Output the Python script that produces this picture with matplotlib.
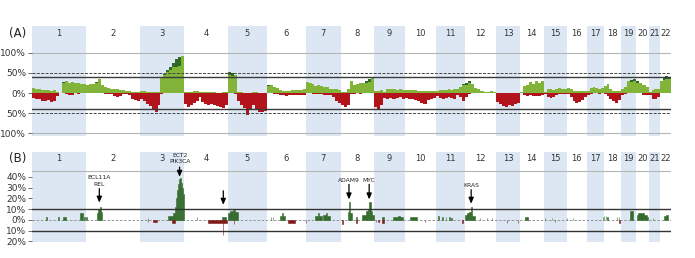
import matplotlib
matplotlib.use('Agg')
import matplotlib.pyplot as plt
import numpy as np

# chromosome sizes (Mb, as laid out in the figure)
chrom_names = [str(i) for i in range(1, 23)]
chrom_len = [250, 248, 202, 202, 179, 179, 161, 152, 143, 143, 133,
             143, 110, 110, 106, 92, 78, 78, 69, 60, 51, 51]

# (A) frequency of gains / losses (%), equal bins along each chromosome
gain_A = [
    [12, 9, 10, 8, 7, 8, 6, 7, 3, 0, 28, 30, 25, 27, 24, 26, 23, 22],
    [20, 22, 23, 28, 36, 20, 14, 12, 11, 9, 10, 8, 7, 6, 5, 3, 3, 2],
    [4, 5, 3, 3, 2, 2, 3, 38, 48, 57, 66, 76, 84, 90, 93],
    [2, 3, 3, 6, 4, 3, 2, 2, 2, 2, 2, 1, 1, 2, 2],
    [52, 50, 45, 2, 2, 1, 1, 1, 2, 2, 1, 1, 1],
    [20, 21, 16, 12, 8, 6, 5, 6, 7, 8, 7, 8, 9],
    [28, 24, 22, 18, 20, 17, 15, 14, 11, 10, 9, 8],
    [2, 2, 10, 30, 20, 22, 24, 26, 30, 34, 40],
    [4, 6, 8, 3, 9, 10, 9, 8, 9, 8],
    [7, 8, 7, 7, 6, 6, 5, 6, 5, 6],
    [6, 7, 7, 8, 9, 8, 9, 10, 14, 22],
    [24, 30, 22, 12, 9, 4, 3, 3, 4, 2],
    [1, 1, 1, 1, 1, 1, 1, 1],
    [2, 18, 20, 28, 22, 30, 24, 30],
    [3, 9, 10, 8, 10, 12, 9, 10],
    [12, 10, 5, 4, 4, 5, 6],
    [5, 12, 15, 13, 11, 12],
    [18, 22, 10, 6, 4, 5],
    [10, 14, 30, 33, 36],
    [30, 25, 20, 16],
    [2, 8, 10, 9],
    [30, 40, 42, 38],
]
# high-level part of the gains (dark green)
high_A = [
    [0, 0, 0, 0, 0, 0, 0, 0, 0, 0, 3, 4, 0, 0, 0, 0, 0, 0],
    [0, 0, 0, 3, 6, 0, 0, 0, 0, 0, 0, 0, 0, 0, 0, 0, 0, 0],
    [0, 0, 0, 0, 0, 0, 0, 0, 2, 4, 8, 12, 18, 22, 25],
    [0, 0, 0, 0, 0, 0, 0, 0, 0, 0, 0, 0, 0, 0, 0],
    [8, 8, 5, 0, 0, 0, 0, 0, 0, 0, 0, 0, 0],
    [3, 2, 0, 0, 0, 0, 0, 0, 0, 0, 0, 0, 0],
    [3, 0, 0, 0, 0, 0, 0, 0, 0, 0, 0, 0],
    [0, 0, 0, 5, 0, 0, 0, 2, 4, 6, 8],
    [0, 0, 0, 0, 0, 0, 0, 0, 0, 0],
    [0, 0, 0, 0, 0, 0, 0, 0, 0, 0],
    [0, 0, 0, 0, 0, 0, 0, 0, 0, 3],
    [3, 5, 2, 0, 0, 0, 0, 0, 0, 0],
    [0, 0, 0, 0, 0, 0, 0, 0],
    [0, 0, 0, 4, 0, 4, 0, 4],
    [0, 0, 0, 0, 0, 0, 0, 0],
    [0, 0, 0, 0, 0, 0, 0],
    [0, 0, 0, 0, 0, 0],
    [0, 2, 0, 0, 0, 0],
    [0, 0, 0, 6, 6],
    [6, 3, 0, 0],
    [0, 0, 0, 0],
    [0, 8, 8, 4],
]
loss_A = [
    [12, 14, 15, 19, 20, 18, 22, 20, 8, 0, 1, 2, 5, 4, 1, 2, 1, 1],
    [0, 1, 1, 0, 0, 1, 2, 2, 3, 8, 9, 7, 3, 2, 6, 14, 18, 20],
    [15, 20, 28, 32, 42, 46, 30, 3, 1, 0, 0, 0, 0, 0, 0],
    [28, 34, 30, 26, 20, 10, 22, 28, 30, 27, 30, 32, 34, 37, 30],
    [0, 0, 2, 20, 30, 38, 55, 40, 30, 42, 46, 47, 45],
    [1, 1, 2, 3, 4, 6, 8, 5, 6, 4, 5, 6, 4],
    [1, 1, 2, 2, 2, 3, 4, 5, 5, 10, 20, 25],
    [30, 36, 30, 2, 2, 1, 2, 1, 1, 1, 1],
    [36, 40, 30, 12, 14, 12, 16, 12, 10, 14],
    [12, 16, 15, 18, 20, 24, 28, 18, 14, 12],
    [8, 12, 14, 12, 10, 13, 15, 6, 10, 20],
    [10, 2, 1, 1, 1, 1, 0, 0, 1, 1],
    [22, 28, 32, 34, 30, 33, 28, 25],
    [1, 5, 7, 6, 8, 7, 8, 6],
    [2, 10, 12, 10, 4, 3, 2, 2],
    [2, 10, 20, 24, 22, 18, 10],
    [6, 2, 1, 1, 2, 1],
    [2, 8, 15, 20, 26, 18],
    [6, 3, 1, 1, 1],
    [1, 1, 4, 5],
    [4, 14, 15, 10],
    [1, 1, 1, 1],
]

# (B) significant gains / losses: (chromosome, start Mb, end Mb, %)
gain_B = [
    (1, 68, 71, 3), (1, 120, 124, 3), (1, 143, 160, 3), (1, 224, 234, 6), (1, 240, 243, 3),
    (2, 2, 5, 3), (2, 50, 56, 6), (2, 56, 62, 10), (2, 62, 67, 12), (2, 67, 72, 7),
    (3, 36, 38, 2), (3, 128, 152, 4), (3, 152, 161, 6), (3, 161, 166, 12), (3, 166, 170, 20),
    (3, 170, 175, 28), (3, 175, 179, 33), (3, 179, 184, 38), (3, 184, 189, 39), (3, 189, 193, 34),
    (3, 193, 198, 30), (3, 198, 202, 24),
    (4, 60, 62, 3), (4, 175, 195, 3),
    (5, 0, 10, 6), (5, 10, 25, 8), (5, 25, 35, 9), (5, 35, 46, 7),
    (6, 18, 20, 3), (6, 27, 29, 3), (6, 60, 70, 4), (6, 70, 76, 6), (6, 76, 83, 4),
    (7, 41, 55, 4), (7, 55, 62, 6), (7, 62, 74, 4), (7, 78, 92, 5), (7, 92, 100, 6), (7, 100, 110, 4),
    (8, 32, 38, 7), (8, 38, 44, 17), (8, 44, 50, 6), (8, 72, 75, 3), (8, 97, 115, 5),
    (8, 115, 125, 8), (8, 125, 132, 10), (8, 132, 138, 17), (8, 138, 145, 8), (8, 145, 152, 5),
    (9, 38, 45, 3), (9, 87, 110, 3), (9, 110, 120, 4), (9, 120, 133, 3),
    (10, 23, 55, 3),
    (11, 9, 12, 4), (11, 30, 33, 3), (11, 45, 48, 3), (11, 60, 63, 3), (11, 70, 73, 2),
    (12, 0, 10, 5), (12, 10, 20, 6), (12, 20, 27, 7), (12, 27, 32, 12), (12, 32, 46, 4),
    (12, 68, 70, 2), (12, 100, 102, 2), (12, 123, 125, 2),
    (14, 23, 37, 3),
    (15, 4, 6, 2), (15, 36, 38, 2),
    (16, 1, 3, 2), (16, 27, 29, 2),
    (17, 72, 75, 3),
    (18, 0, 3, 4), (18, 8, 11, 4), (18, 15, 18, 3), (18, 60, 62, 3), (18, 68, 70, 3),
    (19, 41, 55, 8),
    (20, 5, 12, 5), (20, 12, 40, 6), (20, 40, 52, 5), (20, 52, 58, 3),
    (21, 17, 19, 2),
    (22, 18, 28, 4), (22, 28, 37, 5),
]
loss_B = [
    (3, 36, 38, 2), (3, 58, 80, 2), (3, 147, 160, 3),
    (4, 110, 198, 3), (4, 178, 181, 14),
    (5, 27, 29, 4),
    (6, 97, 129, 3),
    (7, 0, 3, 3),
    (8, 8, 11, 4), (8, 72, 75, 3),
    (9, 9, 11, 2), (9, 20, 22, 2), (9, 38, 45, 3),
    (10, 91, 93, 2),
    (11, 120, 123, 3),
    (13, 50, 53, 3), (13, 100, 103, 3),
    (15, 50, 52, 2),
    (18, 72, 74, 3),
]

# gene annotations in (B): label, chromosome, Mb, text %, arrow from %, arrow to %
gene_labels = ['BCL11A\nREL', 'ECT2\nPIK3CA', '', 'ADAM9', 'MYC', 'KRAS']
gene_chrom = [2, 3, 4, 8, 8, 12]
gene_pos = [61, 182, 181, 38, 131, 29]
gene_text_y = [36, 57, 0, 37, 37, 32]
gene_arrow_from = [29, 49, 27, 33, 33, 28]
gene_arrow_to = [16, 40, 14, 19, 19, 15]

offsets = np.concatenate([[0], np.cumsum(chrom_len)])

shade = '#dde7f3'
light_green = '#82b43a'
dark_green = '#2f6a2a'
red = '#b3141c'
b_green = '#336b2c'
b_red = '#7c1a1a'


def step_arrays(per_chrom):
    xs, ys = [], []
    for c, vals in enumerate(per_chrom):
        n = len(vals)
        xs.extend(offsets[c] + np.arange(n) * chrom_len[c] / n)
        ys.extend(vals)
    xs.append(offsets[-1])
    ys.append(ys[-1])
    return np.array(xs, float), np.array(ys, float)


def setup_panel(ax, ylim, ticks, ticklabels, tag):
    ax.set_xlim(0, offsets[-1])
    ax.set_ylim(*ylim)
    for c in range(0, 22, 2):
        ax.axvspan(offsets[c], offsets[c + 1], color=shade, lw=0, zorder=0)
    trans = ax.get_xaxis_transform()
    for c in range(22):
        ax.text((offsets[c] + offsets[c + 1]) / 2, 0.928, chrom_names[c], transform=trans,
                ha='center', va='center', fontsize=6, color='#333333')
    for s in ax.spines.values():
        s.set_visible(False)
    ax.set_xticks([])
    ax.set_yticks(ticks)
    ax.set_yticklabels(ticklabels)
    ax.tick_params(axis='y', length=3, width=0.6, color='#555555', labelsize=6.5,
                   labelcolor='#333333', pad=1)
    ax.text(-0.009, 0.928, tag, transform=ax.transAxes, ha='right', va='center',
            fontsize=8.5, color='#222222')


fig = plt.figure(figsize=(6.95, 2.58), dpi=100)
plt.rcParams['font.family'] = ['DejaVu Sans']

left, width = 31.7 / 695, 639.3 / 695

# ---- panel A
axA = fig.add_axes([left, 1 - 136 / 258, width, 110 / 258])
setup_panel(axA, (-107, 167), [100, 50, 0, -50, -100],
            ['100%', '50%', '0%', '50%', '100%'], '(A)')

x, g = step_arrays(gain_A)
_, h = step_arrays(high_A)
_, l = step_arrays(loss_A)
axA.fill_between(x, 0, g, step='post', color=light_green, lw=0, zorder=2)
axA.fill_between(x, g - h, g, where=h > 0, step='post', color=dark_green, lw=0, zorder=2)
axA.fill_between(x, 0, -l, step='post', color=red, lw=0, zorder=2)

for yv in (100, -100):
    axA.axhline(yv, color='#b5b5b5', lw=0.8, zorder=1)
for yv in (50, -50):
    axA.axhline(yv, color='#444444', lw=0.7, ls=(0, (3, 1.5)), zorder=3)
for yv in (40, -40):
    axA.axhline(yv, color='#3a3a3a', lw=1.0, zorder=3)

# ---- panel B
axB = fig.add_axes([left, 1 - 242 / 258, width, 90 / 258])
setup_panel(axB, (-20.5, 63), [40, 30, 20, 10, 0, -10, -20],
            ['40%', '30%', '20%', '10%', '0%', '10%', '20%'], '(B)')

axB.axhline(45, color='#b5b5b5', lw=0.8, zorder=1)
axB.axhline(0, color='#888888', lw=0.6, ls=(0, (3, 2)), zorder=1)
for yv in (10, -10):
    axB.axhline(yv, color='#333333', lw=1.0, zorder=3)

gx = [offsets[c - 1] + s for c, s, e, v in gain_B]
gw = [e - s for c, s, e, v in gain_B]
gv = [v for c, s, e, v in gain_B]
axB.bar(gx, gv, width=gw, align='edge', color=b_green, lw=0.4, edgecolor=b_green, zorder=2)
lx = [offsets[c - 1] + s for c, s, e, v in loss_B]
lw_ = [e - s for c, s, e, v in loss_B]
lv = [-v for c, s, e, v in loss_B]
axB.bar(lx, lv, width=lw_, align='edge', color=b_red, lw=0.4, edgecolor=b_red, zorder=2)

for lab, c, pos, ty, a0, a1 in zip(gene_labels, gene_chrom, gene_pos,
                                   gene_text_y, gene_arrow_from, gene_arrow_to):
    xg = offsets[c - 1] + pos
    axB.annotate('', xy=(xg, a1), xytext=(xg, a0),
                 arrowprops=dict(arrowstyle='-|>,head_length=0.35,head_width=0.15',
                                 color='black', lw=0.9, shrinkA=0, shrinkB=0), zorder=4)
    if lab:
        axB.text(xg, ty, lab, ha='center', va='center', fontsize=4.3,
                 linespacing=1.4, color='#222222', zorder=4)

fig.savefig('out.png', dpi=100)
